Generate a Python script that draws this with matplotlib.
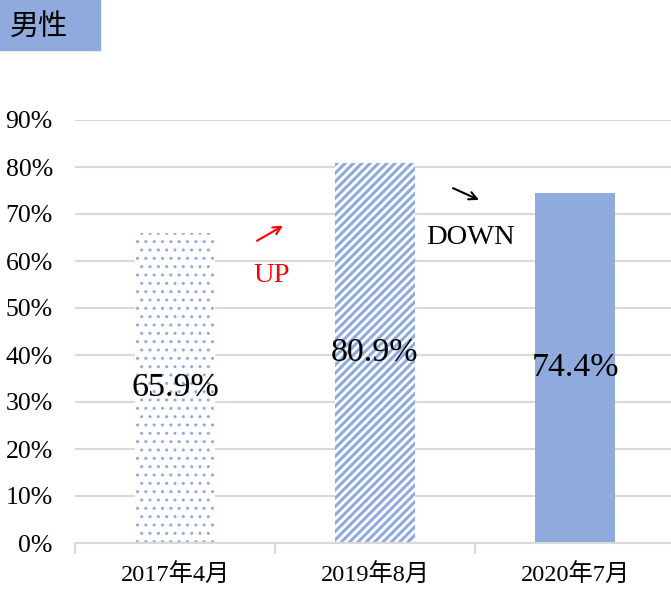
import matplotlib
matplotlib.use("Agg")
import matplotlib.pyplot as plt
from matplotlib.patches import Rectangle

# data
categories = ["2017年4月", "2019年8月", "2020年7月"]
values     = [0.659, 0.809, 0.744]
labels     = ["65.9%", "80.9%", "74.4%"]
hatches    = ["..", "////", None]
hatch_lw   = [1.0, 2.2, 0.0]
yticks     = [0.0, 0.1, 0.2, 0.3, 0.4, 0.5, 0.6, 0.7, 0.8, 0.9]

BLUE = "#8FAADC"
GRID = "#D9D9D9"
SERIF = ["Liberation Serif", "Noto Sans CJK JP"]

plt.rcParams["font.family"] = SERIF

W, H = 671, 589
fig = plt.figure(figsize=(W / 100, H / 100), dpi=100)
ax = fig.add_axes([75 / W, 1 - 543 / H, 600 / W, 423 / H])

x = range(len(categories))
for i, (v, h) in enumerate(zip(values, hatches)):
    if h is None:
        ax.bar(i, v, width=0.4, color=BLUE, linewidth=0, zorder=2)
    else:
        with plt.rc_context({"hatch.linewidth": hatch_lw[i]}):
            ax.bar(i, v, width=0.4, facecolor="white", edgecolor=BLUE,
                   hatch=h, linewidth=0, zorder=2)
    ax.text(i, v / 2, labels[i], ha="center", va="center",
            fontsize=24.5, family=SERIF, zorder=3)

ax.set_xlim(-0.5, 2.5)
ax.set_ylim(0, 0.9)
ax.set_yticks(yticks)
ax.set_yticklabels([f"{int(round(t * 100))}%" for t in yticks], fontsize=18.5)
ax.grid(axis="y", color=GRID, linewidth=1.5, zorder=0)
ax.set_axisbelow(True)

ax.set_xticks(list(x))
ax.set_xticklabels(categories, fontsize=17.5)
ax.set_xticks([-0.5, 0.5, 1.5, 2.5], minor=True)
ax.tick_params(axis="x", which="major", length=0, pad=15)
ax.tick_params(axis="x", which="minor", length=8, width=1.5, color=GRID)
ax.tick_params(axis="y", length=0, pad=16)

for s in ["top", "right", "left"]:
    ax.spines[s].set_visible(False)
ax.spines["bottom"].set_color(GRID)
ax.spines["bottom"].set_linewidth(1.5)

# arrows + trend text
ax.annotate("", xy=(0.54, 0.675), xytext=(0.41, 0.643),
            arrowprops=dict(arrowstyle="->", color="red", lw=1.5,
                            mutation_scale=14, shrinkA=0, shrinkB=0))
ax.text(0.485, 0.57, "UP", color="red", fontsize=20.5, ha="center", va="center")
ax.annotate("", xy=(1.52, 0.73), xytext=(1.39, 0.755),
            arrowprops=dict(arrowstyle="->", color="black", lw=1.5,
                            mutation_scale=14, shrinkA=0, shrinkB=0))
ax.text(1.475, 0.651, "DOWN", color="black", fontsize=20.5, ha="center", va="center")

# title box
fig.patches.append(Rectangle((0, 1 - 50 / H), 100 / W, 50 / H,
                             transform=fig.transFigure, color=BLUE, zorder=0))
fig.text(10 / W, 1 - 27 / H, "男性", fontsize=21, va="center", ha="left",
         family=["Noto Sans CJK JP", "DejaVu Sans"])

fig.savefig("out.png", dpi=100)
